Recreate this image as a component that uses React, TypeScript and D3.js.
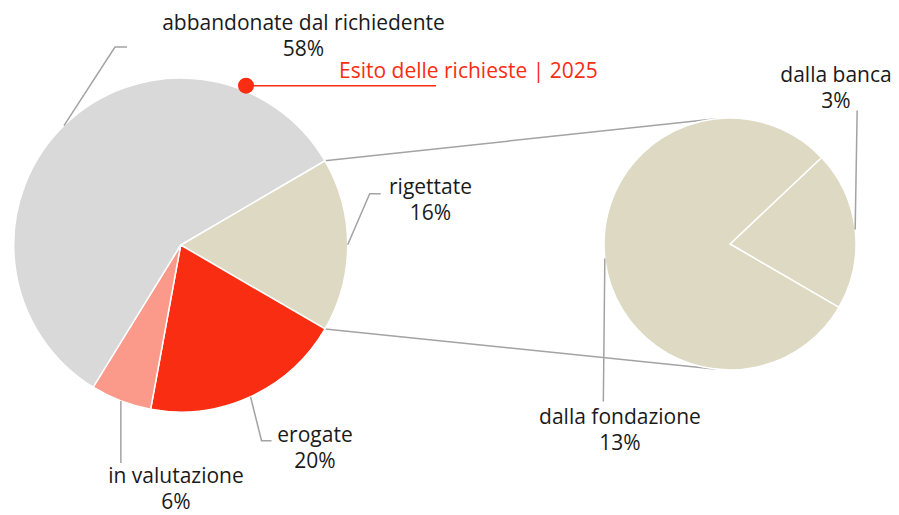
import React from "react";
import * as d3 from "d3";

// ---- data ----
const mainCategories = ["rigettate", "erogate", "in valutazione", "abbandonate dal richiedente"];
const mainValues = [16.8, 19.5, 5.9, 57.8];
const mainLabels = ["16%", "20%", "6%", "58%"];

const detailCategories = ["dalla banca", "dalla fondazione"];
const detailValues = [3.27, 12.73];
const detailLabels = ["3%", "13%"];

const chartTitle = "Esito delle richieste | 2025";

// ---- layout / style ----
const W = 899;
const H = 515;
const DEG = Math.PI / 180;
const FONT = "'Open Sans', sans-serif";
const FS = 21;
const LH = 26.3;
const TEXT = "#1a1a1a";
const LEADER = "#a3a3a3";
const RED = "#f92d12";

const MAIN = { cx: 180.7, cy: 245, r: 167, start: 59.7 };
const DETAIL = { cx: 730, cy: 244, r: 126, start: 46.6 };

const mainColors = ["#ddd9c3", RED, "#fb9a8a", "#d9d9d9"];
const detailColors = ["#ddd9c3", "#ddd9c3"];

// leader steps (relative to the slice anchor on the rim) and label position (centre x, first baseline)
const mainLayout = [
  { steps: [[22, -51], [11, 0]], tx: 430.5, ty: 193.5 },
  { steps: [[11, 44], [10, 0]], tx: 315, ty: 441.7 },
  { steps: [[0, 62]], tx: 176, ty: 482.5 },
  { steps: [[51, -78.5], [12, 0]], tx: 303.5, ty: 29.5 },
];
const detailLayout = [
  { steps: [[2, -119]], tx: 836, ty: 81.7 },
  { steps: [[-1.5, 143]], tx: 620, ty: 423.5 },
];

const TITLE = { dotX: 246, dotY: 85.7, dotR: 8, lineEnd: 436, tx: 339, ty: 78.3 };

function rimPoint(c: { cx: number; cy: number; r: number }, a: number) {
  return [c.cx + c.r * Math.sin(a), c.cy - c.r * Math.cos(a)];
}

function tangentPoints(p: number[], c: { cx: number; cy: number; r: number }) {
  const dx = p[0] - c.cx;
  const dy = p[1] - c.cy;
  const d = Math.hypot(dx, dy);
  const th = Math.atan2(dy, dx);
  const a = Math.acos(c.r / d);
  const pts = [th + a, th - a].map((t) => [c.cx + c.r * Math.cos(t), c.cy + c.r * Math.sin(t)]);
  pts.sort((u, v) => u[1] - v[1]);
  return pts;
}

function makePie(c: { start: number }) {
  return d3
    .pie<number>()
    .sort(null)
    .value((d) => d)
    .startAngle(c.start * DEG)
    .endAngle(c.start * DEG + 2 * Math.PI);
}

function Pie({ c, values, colors }: any) {
  const arc = d3.arc<d3.PieArcDatum<number>>().innerRadius(0).outerRadius(c.r);
  const arcs = makePie(c)(values);
  return (
    <g transform={`translate(${c.cx},${c.cy})`}>
      {arcs.map((a, i) => (
        <path key={i} d={arc(a) || ""} fill={colors[i]} stroke="#ffffff" strokeWidth={1.5} strokeLinejoin="round" />
      ))}
    </g>
  );
}

function Labels({ c, values, cats, labels, layout }: any) {
  const arcs = makePie(c)(values);
  return (
    <g>
      {arcs.map((a, i) => {
        const mid = (a.startAngle + a.endAngle) / 2;
        const p0 = rimPoint(c, mid);
        const pts = [p0];
        let cur = p0;
        layout[i].steps.forEach((s: number[]) => {
          cur = [cur[0] + s[0], cur[1] + s[1]];
          pts.push(cur);
        });
        const line = d3.line()(pts as [number, number][]) || "";
        return (
          <g key={i}>
            <path d={line} fill="none" stroke={LEADER} strokeWidth={1.5} />
            <text x={layout[i].tx} y={layout[i].ty} textAnchor="middle" fontFamily={FONT} fontSize={FS} fill={TEXT}>
              {cats[i]}
            </text>
            <text x={layout[i].tx} y={layout[i].ty + LH} textAnchor="middle" fontFamily={FONT} fontSize={FS} fill={TEXT}>
              {labels[i]}
            </text>
          </g>
        );
      })}
    </g>
  );
}

export default function App() {
  // connector lines from the "rigettate" slice edges to the detail pie tangents
  const pieMain = makePie(MAIN)(mainValues);
  const sel = pieMain[0];
  const pTop = rimPoint(MAIN, sel.startAngle);
  const pBot = rimPoint(MAIN, sel.endAngle);
  const tTop = tangentPoints(pTop, DETAIL)[0];
  const tBot = tangentPoints(pBot, DETAIL)[1];

  return (
    <svg
      width={W}
      height={H}
      viewBox={`0 0 ${W} ${H}`}
      style={{ position: "absolute", left: 0, top: 0, background: "#ffffff" }}
    >
      <line x1={pTop[0]} y1={pTop[1]} x2={tTop[0]} y2={tTop[1]} stroke={LEADER} strokeWidth={1.5} />
      <line x1={pBot[0]} y1={pBot[1]} x2={tBot[0]} y2={tBot[1]} stroke={LEADER} strokeWidth={1.5} />
      <Pie c={MAIN} values={mainValues} colors={mainColors} />
      <Pie c={DETAIL} values={detailValues} colors={detailColors} />
      <Labels c={MAIN} values={mainValues} cats={mainCategories} labels={mainLabels} layout={mainLayout} />
      <Labels c={DETAIL} values={detailValues} cats={detailCategories} labels={detailLabels} layout={detailLayout} />
      <line x1={TITLE.dotX} y1={TITLE.dotY} x2={TITLE.lineEnd} y2={TITLE.dotY} stroke={RED} strokeWidth={1.5} />
      <circle cx={TITLE.dotX} cy={TITLE.dotY} r={TITLE.dotR} fill={RED} />
      <text x={TITLE.tx} y={TITLE.ty} fontFamily={FONT} fontSize={FS} fill={RED}>
        {chartTitle}
      </text>
    </svg>
  );
}
